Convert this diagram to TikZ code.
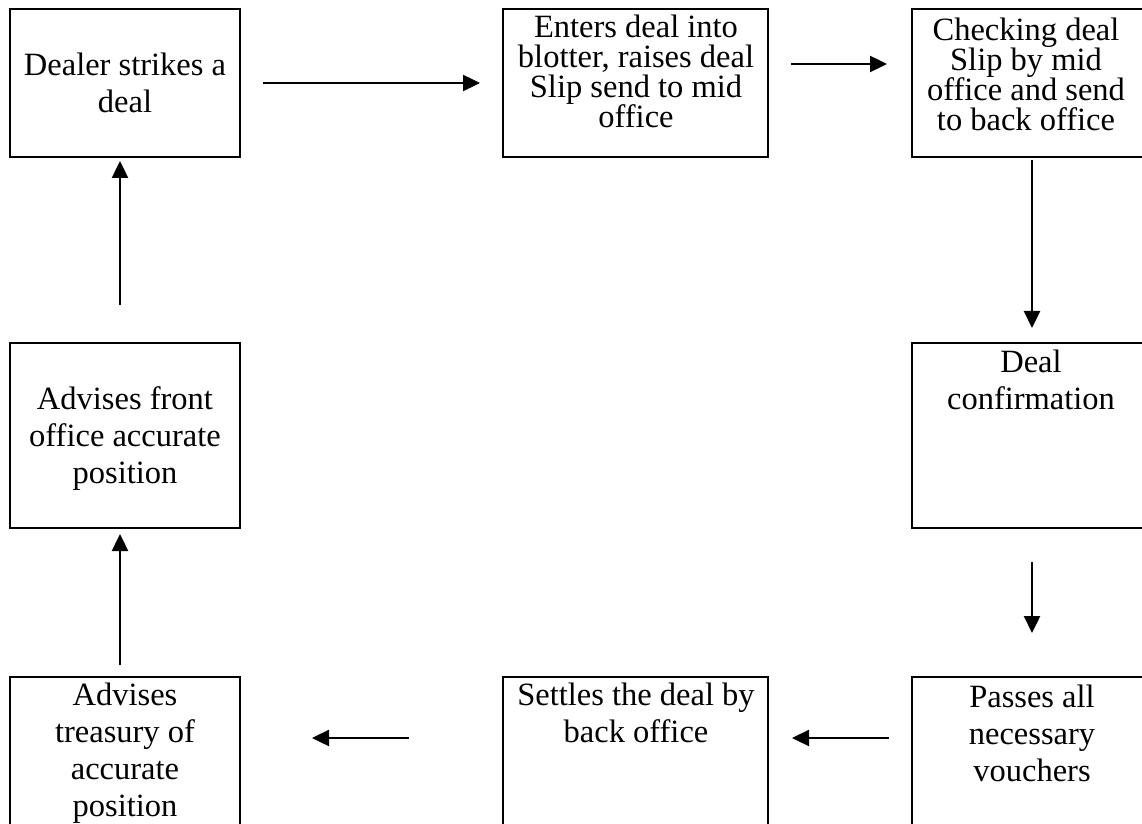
\documentclass[tikz,border=0pt]{standalone}
\usepackage{fontspec}
\setmainfont{Liberation Serif}
\usetikzlibrary{arrows.meta}
\tikzset{
  box/.style={draw, line width=2.6pt, outer sep=0pt, inner sep=0pt},
  lbl/.style={align=center, anchor=north, inner sep=0pt, font=\fontsize{32.5}{37}\selectfont},
  lbltight/.style={align=center, anchor=north, inner sep=0pt, font=\fontsize{32.5}{30}\selectfont},
  arr/.style={line width=2.4pt, -{Triangle[length=17pt,width=16pt]}}
}
\newcommand{\fl}{\rule{0pt}{26pt}}
\begin{document}
\begin{tikzpicture}[x=1pt,y=1pt]
\useasboundingbox (0,0) rectangle (1142,823);
\clip (0,0) rectangle (1142,823);
\fill[white] (0,0) rectangle (1142,823);
% boxes
\node[box, minimum width=230pt, minimum height=148pt] (b1) at (125,740) {};
\node[box, minimum width=265pt, minimum height=148pt] (b2) at (635.5,740) {};
\node[box, minimum width=240pt, minimum height=148pt] (b3) at (1032,740) {};
\node[box, minimum width=240pt, minimum height=185pt] (b4) at (1032,387.5) {};
\node[box, minimum width=240pt, minimum height=163pt] (b5) at (1032,64.5) {};
\node[box, minimum width=265pt, minimum height=163pt] (b6) at (635.5,64.5) {};
\node[box, minimum width=230pt, minimum height=163pt] (b7) at (125,64.5) {};
\node[box, minimum width=230pt, minimum height=185pt] (b8) at (125,387.5) {};
% texts
\node[lbl] (t1) at (125,774) {\fl Dealer strikes a\\deal};
\node[lbltight] (t2) at (636,812) {\fl Enters deal into\\blotter, raises deal\\Slip send to mid\\office};
\node[lbltight] (t3) at (1026,809) {\fl Checking deal\\Slip by mid\\office and send\\to back office};
\node[lbl] (t4) at (1031,477) {\fl Deal\\confirmation};
\node[lbl] (t5) at (1032,142) {\fl Passes all\\necessary\\vouchers};
\node[lbl] (t6) at (636,144) {\fl Settles the deal by\\back office};
\node[lbl] (t7) at (125,144) {\fl Advises\\treasury of\\accurate\\position};
\node[lbl] (t8) at (125,440) {\fl Advises front\\office accurate\\position};
% connectors
\coordinate (low) at (0,85);
\draw[arr, shorten <=23pt, shorten >=23pt] (b1.east) -- (b2.west);
\draw[arr, shorten <=23pt, shorten >=25pt] ([yshift=19pt]b2.east) -- ([yshift=19pt]b3.west);
\draw[arr, shorten <=3pt, shorten >=15pt] (b3.south) -- (b4.north);
\draw[arr, shorten <=34pt, shorten >=44pt] (b4.south) -- (b5.north);
\draw[arr, shorten <=23pt, shorten >=24pt] (b5.west |- low) -- (b6.east |- low);
\draw[arr, shorten <=94pt, shorten >=72pt] (b6.west |- low) -- (b7.east |- low);
\draw[arr, shorten <=12pt, shorten >=6pt] ([xshift=-5pt]b7.north) -- ([xshift=-5pt]b8.south);
\draw[arr, shorten <=38pt, shorten >=4pt] ([xshift=-5pt]b8.north) -- ([xshift=-5pt]b1.south);
\end{tikzpicture}
\end{document}
